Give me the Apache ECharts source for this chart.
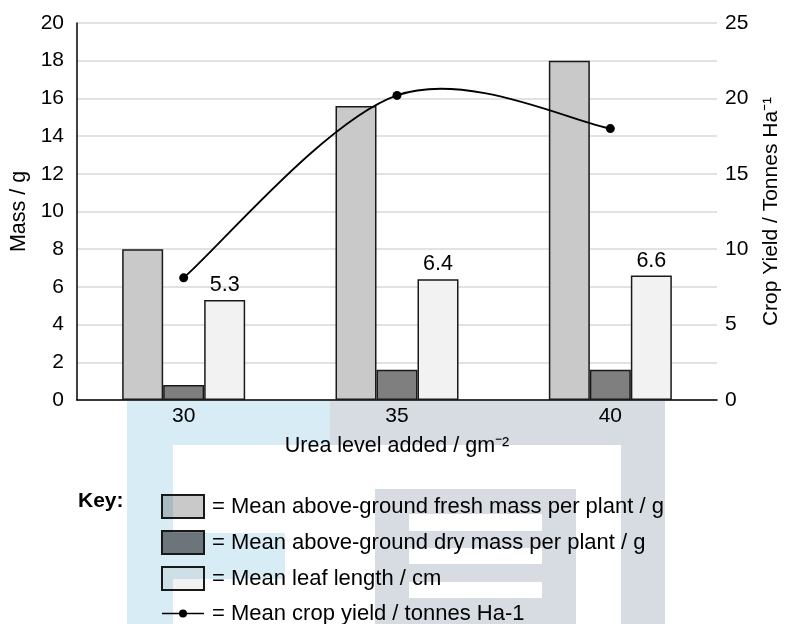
<!DOCTYPE html>
<html>
<head>
<meta charset="utf-8">
<script src="https://cdn.jsdelivr.net/npm/echarts@6/dist/echarts.min.js"></script>
<style>
html,body{margin:0;padding:0;background:#fff;}
#chart{width:786px;height:624px;}
</style>
</head>
<body>
<div id="chart"></div>
<script>
var categories = ['30', '35', '40'];
var freshMass = [8.0, 15.6, 18.0];
var dryMass = [0.8, 1.6, 1.6];
var leafLength = [5.3, 6.4, 6.6];
var cropYield = [8.1, 20.2, 18.0];

var seriesNames = [
  'Mean above-ground fresh mass per plant / g',
  'Mean above-ground dry mass per plant / g',
  'Mean leaf length / cm',
  'Mean crop yield / tonnes Ha-1'
];

var FONT = '"Liberation Sans", Arial, sans-serif';
var chart = echarts.init(document.getElementById('chart'), null, {renderer: 'canvas'});

function wm(x, y, w, h, color) {
  return {
    type: 'rect', z: 100, silent: true,
    shape: {x: x, y: y, width: w, height: h},
    style: {fill: color, blend: 'multiply'}
  };
}
var BLUE = '#d8ecf5', GRAY = '#d6dce1';
var barBorder = {borderColor: '#1a1a1a', borderWidth: 1.5};

// smooth curve (Catmull-Rom style, like spreadsheet smoothing) drawn via axis coords
function renderYield(params, api) {
  var i = params.dataIndex;
  var n = cropYield.length;
  function pt(j) {
    j = Math.max(0, Math.min(n - 1, j));
    return api.coord([j, cropYield[j]]);
  }
  var children = [];
  var p1 = pt(i);
  if (i < n - 1) {
    var p0 = pt(i - 1), p2 = pt(i + 1), p3 = pt(i + 2);
    var t = 1 / 6;
    children.push({
      type: 'bezierCurve',
      shape: {
        x1: p1[0], y1: p1[1], x2: p2[0], y2: p2[1],
        cpx1: p1[0] + (p2[0] - p0[0]) * t, cpy1: p1[1] + (p2[1] - p0[1]) * t,
        cpx2: p2[0] - (p3[0] - p1[0]) * t, cpy2: p2[1] - (p3[1] - p1[1]) * t
      },
      style: {stroke: '#000', lineWidth: 1.8, fill: null}
    });
  }
  children.push({type: 'circle', shape: {cx: p1[0], cy: p1[1], r: 4.5}, style: {fill: '#000'}});
  return {type: 'group', children: children};
}

var lineIcon = 'path://M21,0 L21.01,0 L21,0.01 Z M21,23 L21.01,23 L21,22.99 Z ' +
  'M0,10.7 L42,10.7 L42,12.3 L0,12.3 Z M25,11.5 A4,4 0 1,1 17,11.5 A4,4 0 1,1 25,11.5 Z';

chart.setOption({
  animation: false,
  textStyle: {fontFamily: FONT},
  grid: {left: 77, right: 69, top: 23, bottom: 224, containLabel: false, outerBoundsMode: 'none'},
  legend: {
    orient: 'vertical', left: 161, top: 494, height: 300,
    itemWidth: 42, itemHeight: 23, itemGap: 11, padding: 0,
    data: [
      {name: seriesNames[0], icon: 'rect'},
      {name: seriesNames[1], icon: 'rect'},
      {name: seriesNames[2], icon: 'rect'},
      {name: seriesNames[3], icon: lineIcon}
    ],
    formatter: function (n) { return '= ' + n; },
    textStyle: {fontSize: 22, lineHeight: 23, color: '#000', fontFamily: FONT, padding: [0, 0, 0, 3]}
  },
  xAxis: {
    type: 'category', data: categories,
    axisLine: {lineStyle: {color: '#000', width: 1.5}},
    axisTick: {show: false},
    axisLabel: {fontSize: 21, color: '#000', margin: 6},
    name: 'Urea level added / gm\u207B\u00B2',
    nameLocation: 'middle', nameGap: 35,
    nameTextStyle: {fontSize: 21.5, color: '#000'}
  },
  yAxis: [{
    type: 'value', min: 0, max: 20, interval: 2,
    axisLine: {show: true, lineStyle: {color: '#000', width: 1.5}},
    axisTick: {show: false},
    axisLabel: {fontSize: 21, color: '#000', margin: 13},
    splitLine: {lineStyle: {color: '#d9d9d9', width: 1.5}},
    name: 'Mass / g', nameLocation: 'middle', nameGap: 40,
    nameTextStyle: {fontSize: 21.5, color: '#000'}
  }, {
    type: 'value', min: 0, max: 25, interval: 5,
    axisLine: {show: false},
    axisTick: {show: false},
    axisLabel: {fontSize: 21, color: '#000', margin: 8},
    splitLine: {show: false},
    name: 'Crop Yield / Tonnes Ha\u207B\u00B9', nameLocation: 'middle', nameGap: 44, nameRotate: 90,
    nameTextStyle: {fontSize: 21, color: '#000'}
  }],
  series: [{
    name: seriesNames[0], type: 'bar', data: freshMass,
    barWidth: 41, barGap: '0%',
    itemStyle: Object.assign({color: '#c9c9c9'}, barBorder)
  }, {
    name: seriesNames[1], type: 'bar', data: dryMass,
    barWidth: 41, barGap: '0%',
    itemStyle: Object.assign({color: '#7f7f7f'}, barBorder)
  }, {
    name: seriesNames[2], type: 'bar', data: leafLength,
    barWidth: 41, barGap: '0%',
    itemStyle: Object.assign({color: '#f2f2f2'}, barBorder),
    label: {show: true, position: 'top', distance: 4, fontSize: 21.5, color: '#000'}
  }, {
    name: seriesNames[3], type: 'custom', xAxisIndex: 0, yAxisIndex: 1, z: 3,
    data: categories.map(function (c, i) { return [i, cropYield[i]]; }),
    renderItem: renderYield,
    itemStyle: {color: '#000'}
  }],
  graphic: [
    {type: 'text', left: 78, top: 491, z: 50,
     style: {text: 'Key:', fontSize: 21, fontWeight: 'bold', fill: '#000', fontFamily: FONT}},
    wm(127, 401, 203, 44, BLUE),
    wm(127, 445, 46, 179, BLUE),
    wm(173, 533, 112, 46, BLUE),
    wm(330, 401, 335, 44, GRAY),
    wm(621, 445, 44, 179, GRAY),
    wm(375, 489, 34, 135, GRAY),
    wm(542, 489, 34, 135, GRAY),
    wm(409, 489, 133, 25, GRAY),
    wm(409, 531, 133, 17, GRAY),
    wm(409, 564, 133, 18, GRAY),
    wm(409, 598, 133, 26, GRAY)
  ]
});
</script>
</body>
</html>
